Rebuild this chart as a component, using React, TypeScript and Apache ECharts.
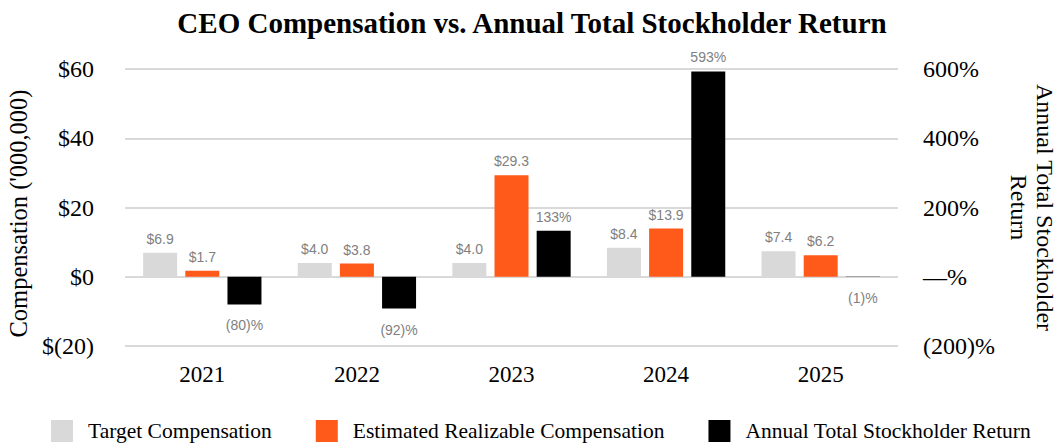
import React, { useEffect, useRef } from "react";
import * as echarts from "echarts";

const years = ["2021", "2022", "2023", "2024", "2025"];
const targetComp = [6.9, 4.0, 4.0, 8.4, 7.4];
const estimatedComp = [1.7, 3.8, 29.3, 13.9, 6.2];
const tsr = [-80, -92, 133, 593, -1];

const SERIF = "Liberation Serif";
const SANS = "Liberation Sans";

const compLabel = (v: number) => `$${v.toFixed(1)}`;
const tsrLabel = (v: number) => (v < 0 ? `(${Math.abs(v)})%` : `${v}%`);

export default function App() {
  const ref = useRef<HTMLDivElement>(null);
  useEffect(() => {
    if (!ref.current) return;
    const chart = echarts.init(ref.current, undefined, { renderer: "svg" });
    const labelBase = { show: true, color: "#808080", fontFamily: SANS, fontSize: 14 };
    chart.setOption({
      animation: false,
      backgroundColor: "#ffffff",
      textStyle: { fontFamily: SERIF },
      title: {
        text: "CEO Compensation vs. Annual Total Stockholder Return",
        left: "center",
        top: 3,
        textStyle: { fontFamily: SERIF, fontWeight: "bold", fontSize: 29, color: "#000" },
      },
      legend: {
        bottom: 1,
        left: 46,
        itemWidth: 22,
        itemHeight: 22,
        itemGap: 44,
        icon: "rect",
        textStyle: { fontFamily: SERIF, fontSize: 21.5, color: "#000", padding: [0, 0, 0, 10] },
        data: ["Target Compensation", "Estimated Realizable Compensation", "Annual Total Stockholder Return"],
      },
      grid: { left: 125, right: 166, top: 69, bottom: 102, outerBoundsMode: "none", containLabel: false },
      xAxis: {
        type: "category",
        data: years,
        axisLine: { show: false },
        axisTick: { show: false },
        axisLabel: { fontFamily: SERIF, fontSize: 23, color: "#000", margin: 17 },
      },
      yAxis: [
        {
          type: "value",
          min: -20,
          max: 60,
          interval: 20,
          name: "Compensation ('000,000)",
          nameLocation: "middle",
          nameGap: 92,
          nameTextStyle: { fontFamily: SERIF, fontSize: 24.5, color: "#000", padding: [0, 12, 0, 0] },
          axisLine: { show: false },
          axisTick: { show: false },
          axisLabel: {
            fontFamily: SERIF,
            fontSize: 24,
            color: "#000",
            margin: 31,
            formatter: (v: number) => (v < 0 ? `$(${Math.abs(v)})` : `$${v}`),
          },
          splitLine: { lineStyle: { color: "#d9d9d9", width: 2 } },
        },
        {
          type: "value",
          min: -200,
          max: 600,
          interval: 200,
          position: "right",
          name: "Annual Total Stockholder\nReturn",
          nameLocation: "middle",
          nameRotate: -90,
          nameGap: 108,
          nameTextStyle: { fontFamily: SERIF, fontSize: 24, color: "#000", lineHeight: 26 },
          axisLine: { show: false },
          axisTick: { show: false },
          axisLabel: {
            fontFamily: SERIF,
            fontSize: 24,
            color: "#000",
            margin: 25,
            formatter: (v: number) => (v === 0 ? "—%" : v < 0 ? `(${Math.abs(v)})%` : `${v}%`),
          },
          splitLine: { show: false },
        },
      ],
      series: [
        {
          name: "Target Compensation",
          type: "bar",
          yAxisIndex: 0,
          barWidth: 34,
          barGap: "24%",
          itemStyle: { color: "#d9d9d9" },
          label: { ...labelBase, position: "top", distance: 7, formatter: (p: any) => compLabel(p.value) },
          data: targetComp,
        },
        {
          name: "Estimated Realizable Compensation",
          type: "bar",
          yAxisIndex: 0,
          barWidth: 34,
          barGap: "24%",
          itemStyle: { color: "#ff5a1a" },
          label: { ...labelBase, position: "top", distance: 7, formatter: (p: any) => compLabel(p.value) },
          data: estimatedComp,
        },
        {
          name: "Annual Total Stockholder Return",
          type: "bar",
          yAxisIndex: 1,
          barWidth: 34,
          barGap: "24%",
          itemStyle: { color: "#000000" },
          data: tsr.map((v) => ({
            value: v,
            label: {
              ...labelBase,
              position: v < 0 ? "bottom" : "top",
              distance: v < 0 ? 14 : 7,
              formatter: () => tsrLabel(v),
            },
          })),
        },
      ],
    });
    return () => chart.dispose();
  }, []);
  return (
    <div
      ref={ref}
      style={{ position: "fixed", left: 0, top: 0, width: 1064, height: 448 }}
    />
  );
}
